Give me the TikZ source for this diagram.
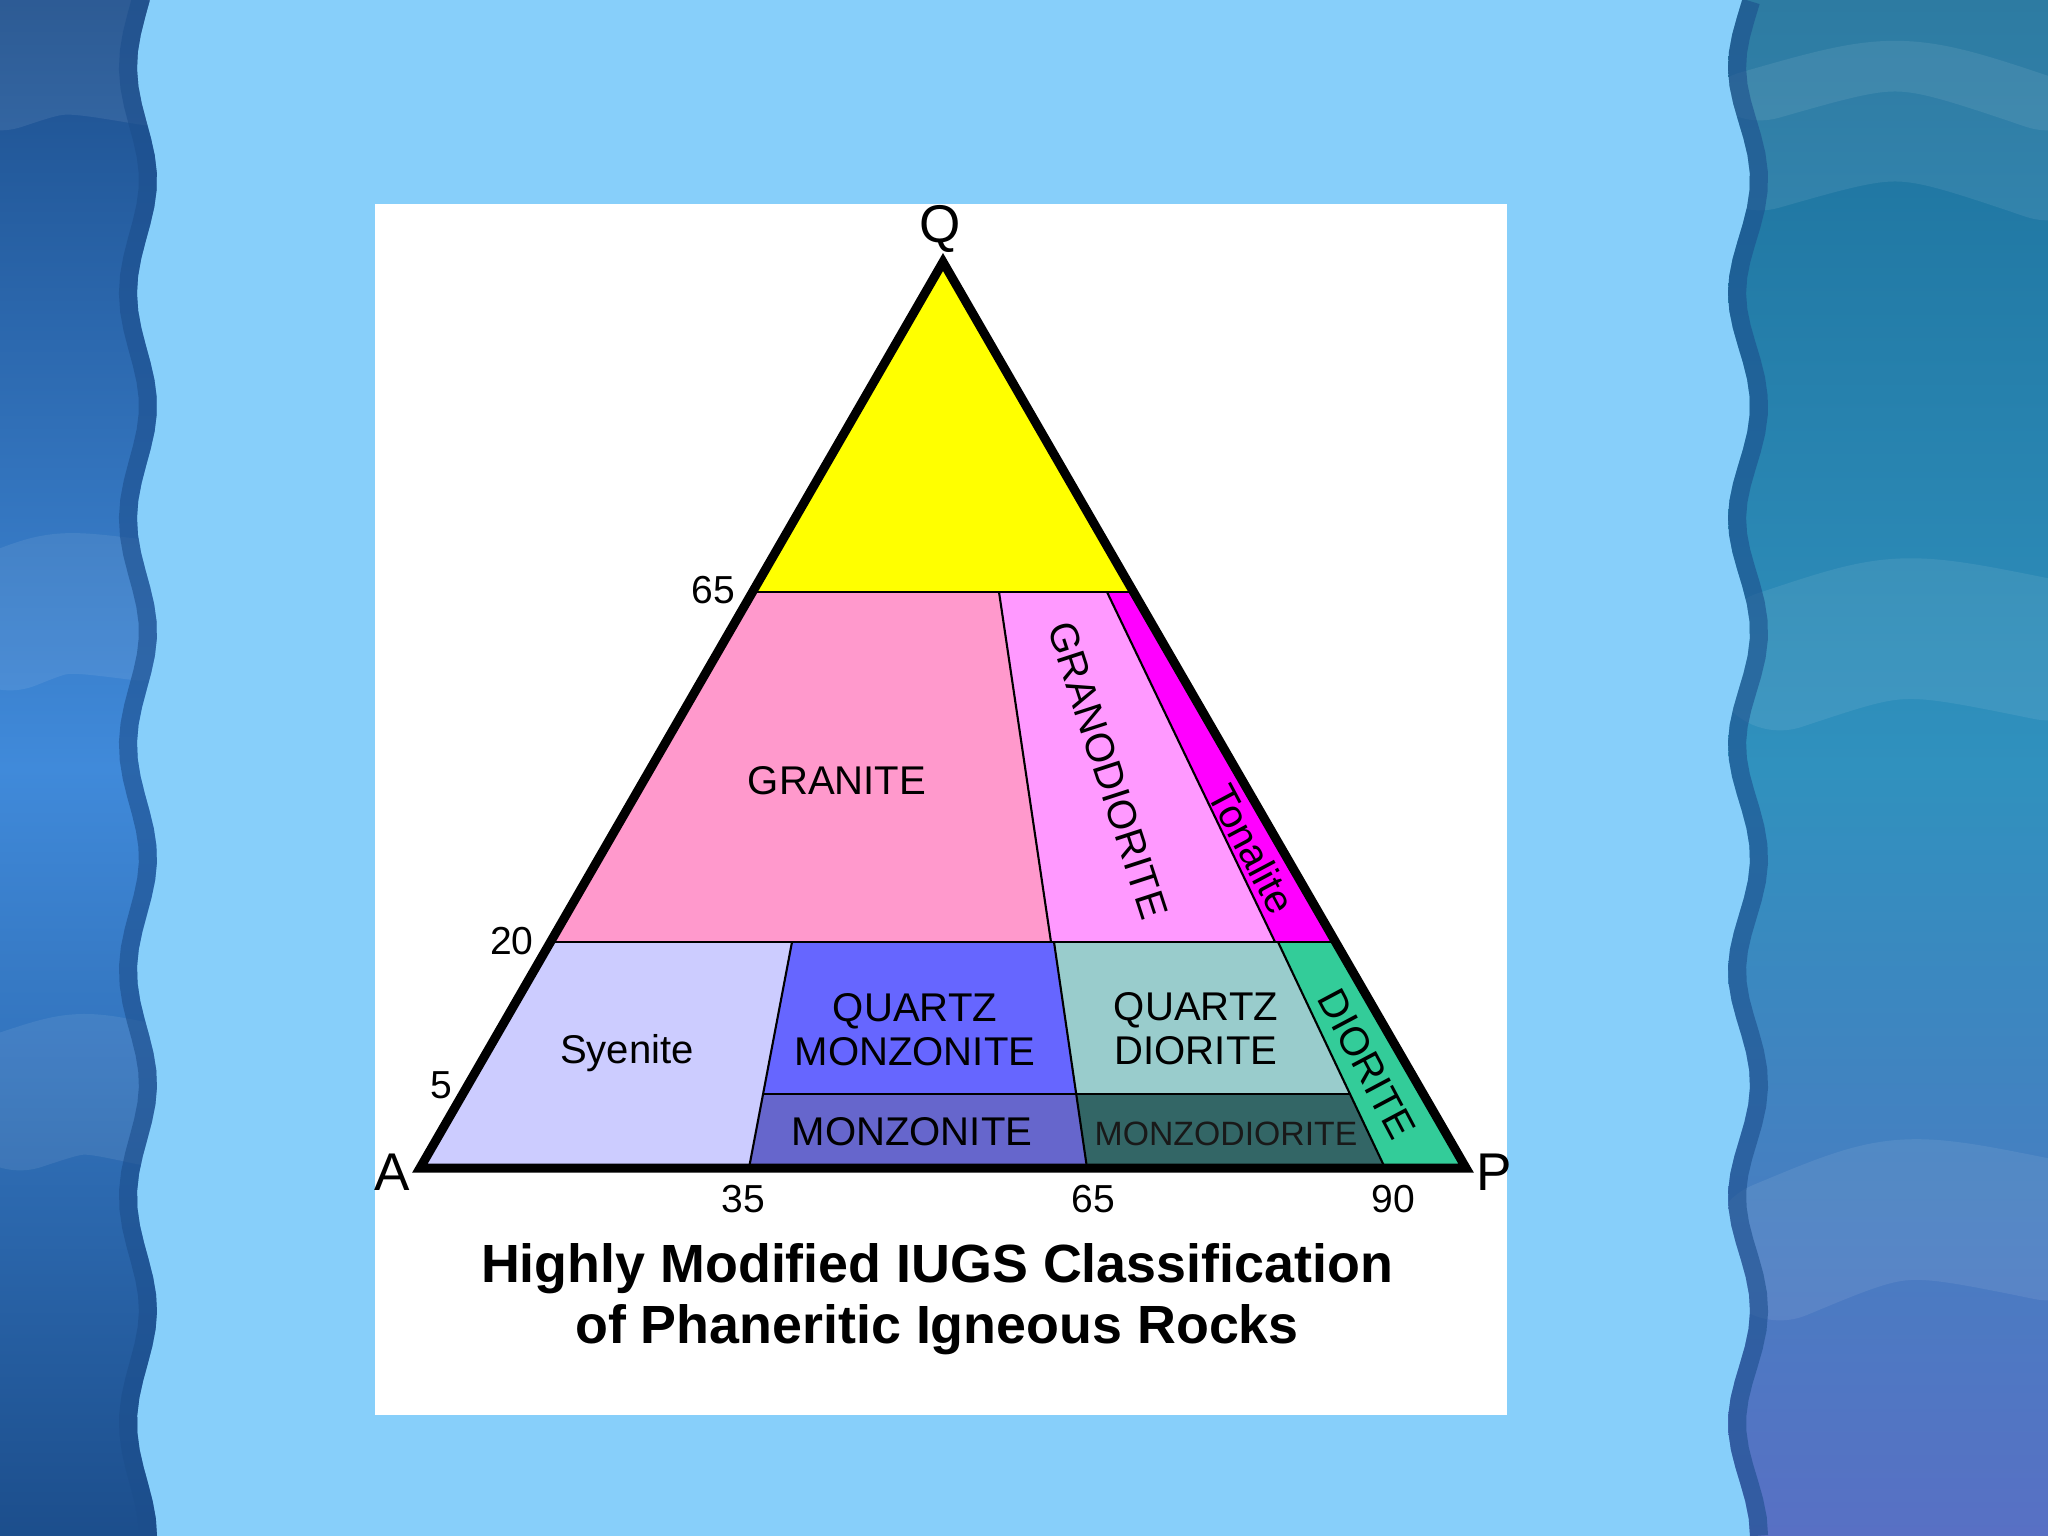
\documentclass[tikz,border=0pt]{standalone}
\usepackage{fontspec}
\setmainfont{Liberation Sans}
\usepackage{tikz}
\usepackage{tkz-euclide}
\usetikzlibrary{calc}

\definecolor{skyback}{RGB}{135,207,250}
\definecolor{navyband}{RGB}{28,78,140}
\definecolor{midband}{RGB}{64,138,218}
\definecolor{tealtop}{RGB}{28,112,155}
\definecolor{tealmid}{RGB}{48,145,190}
\definecolor{violetlow}{RGB}{88,112,196}
\definecolor{qapex}{RGB}{255,255,0}
\definecolor{granite}{RGB}{255,153,204}
\definecolor{granodio}{RGB}{255,153,255}
\definecolor{tonalite}{RGB}{255,0,255}
\definecolor{syenite}{RGB}{204,204,255}
\definecolor{qmonzo}{RGB}{102,102,255}
\definecolor{monzo}{RGB}{102,102,204}
\definecolor{qdiorite}{RGB}{153,204,204}
\definecolor{monzodio}{RGB}{51,102,102}
\definecolor{diorite}{RGB}{51,204,153}

\begin{document}
\begin{tikzpicture}[x=0.01cm,y=-0.01cm,
    rock/.style={font=\fontsize{11.4}{12.6}\selectfont,align=center,inner sep=0pt},
    ticklbl/.style={font=\fontsize{11.1}{12}\selectfont,inner sep=0pt},
    corner/.style={font=\fontsize{15.1}{16}\selectfont,inner sep=0pt},
    border/.style={line width=0.6pt},
    ripple/.style={white,opacity=.08,line width=40,line cap=round}]
    \useasboundingbox (0,0) rectangle (2048,1536);
    % slide background
    \fill[skyback] (0,0) rectangle (2048,1536);
    \shade[top color=navyband,bottom color=navyband,middle color=midband]
        (0,0) -- plot[domain=0:1536,samples=90] ({147-10*cos(1.5929*(\x-67))},\x) -- (0,1536) -- cycle;
    \shade[top color=tealtop,bottom color=violetlow,middle color=tealmid]
        (2048,0) -- plot[domain=0:1536,samples=90] ({1739-11*cos(1.5929*(\x-67))},\x) -- (2048,1536) -- cycle;
    \begin{scope}
        \clip (0,0) -- plot[domain=0:1536,samples=90] ({147-10*cos(1.5929*(\x-67))},\x) -- (0,1536) -- cycle;
        \draw[ripple] (10,620) .. controls (60,600) .. (140,610);
        \draw[ripple] (20,1100) .. controls (80,1080) .. (150,1095);
        \draw[ripple] (0,60) .. controls (60,40) .. (150,55);
        \draw[navyband,line width=8,opacity=.6] plot[domain=0:1536,samples=90] ({143-10*cos(1.5929*(\x-67))},\x);
    \end{scope}
    \begin{scope}
        \clip (2048,0) -- plot[domain=0:1536,samples=90] ({1739-11*cos(1.5929*(\x-67))},\x) -- (2048,1536) -- cycle;
        \draw[ripple] (1760,50) .. controls (1900,10) .. (2048,60);
        \draw[ripple] (1760,140) .. controls (1900,100) .. (2048,150);
        \draw[ripple] (1780,660) .. controls (1900,620) .. (2048,650);
        \draw[ripple] (1780,1250) .. controls (1900,1200) .. (2048,1230);
        \draw[navyband,line width=8,opacity=.6] plot[domain=0:1536,samples=90] ({1743-11*cos(1.5929*(\x-67))},\x);
    \end{scope}
    \fill[white] (375,204) rectangle (1507,1415);
    % QAP corners and field boundaries
    \tkzDefPoints{943/262/Q0, 420/1168/A0, 1466/1168/P0}
    \tkzDefPoints{752.5/592/L65, 1133.5/592/R65, 550.4/942/L20, 1335.6/942/R20}
    \tkzDefPoints{999/592/G1, 1051/942/G2, 1107/592/T1, 1275/942/T2}
    \tkzDefPoints{792/942/S1, 749/1168/S3, 1054/942/M1, 1087/1168/M3, 1278/942/D1, 1385/1168/D3}
    \coordinate (S2) at ($(S1)!0.6726!(S3)$);
    \coordinate (M2) at ($(M1)!0.6726!(M3)$);
    \coordinate (D2) at ($(D1)!0.6726!(D3)$);
    \tkzFillPolygon[qapex](Q0,L65,R65)
    \tkzFillPolygon[granite](L65,G1,G2,L20)
    \tkzFillPolygon[granodio](G1,T1,T2,G2)
    \tkzFillPolygon[tonalite](T1,R65,R20,T2)
    \tkzFillPolygon[syenite](L20,S1,S3,A0)
    \tkzFillPolygon[qmonzo](S1,M1,M2,S2)
    \tkzFillPolygon[monzo](S2,M2,M3,S3)
    \tkzFillPolygon[qdiorite](M1,D1,D2,M2)
    \tkzFillPolygon[monzodio](M2,D2,D3,M3)
    \tkzFillPolygon[diorite](D1,R20,P0,D3)
    \draw[border](L65)--(R65);
    \draw[border](L20)--(R20);
    \draw[border](S2)--(D2);
    \draw[border](G1)--(G2);
    \draw[border](T1)--(T2);
    \draw[border](S1)--(S3);
    \draw[border](M1)--(M3);
    \draw[border](D1)--(D3);
    \draw[line width=0.09cm,line join=miter](A0)--(P0)--(Q0)--cycle;
    % rock names
    \node[rock] (granite) at (837,781) {GRANITE};
    \node[rock,rotate=-72] (granodiorite) at (1108,770) {GRANODIORITE};
    \node[rock,rotate=-62] (tonalite) at (1252,849) {Tonalite};
    \node[rock,rotate=-62] (diorite) at (1367,1064) {DIORITE};
    \node[rock] (syenite) at (627,1053) {Syenite};
    \node[rock] (qmonzonite) at (915,1030) {QUARTZ\\MONZONITE};
    \node[rock] (qdiorite) at (1196,1029) {QUARTZ\\DIORITE};
    \node[rock] (monzonite) at (912,1132) {MONZONITE};
    \node[rock,font=\fontsize{9.6}{11}\selectfont,text=black!90] (monzodiorite) at (1226,1134) {MONZODIORITE};
    % apices and percent marks
    \node[corner] (q) at (940,229) {Q};
    \node[corner] (a) at (392,1172) {A};
    \node[corner] (p) at (1494,1172) {P};
    \node[ticklbl] (q65) at (713,590) {65};
    \node[ticklbl] (q20) at (512,941) {20};
    \node[ticklbl] (q5) at (441,1085) {5};
    \node[ticklbl] (p35) at (743,1199) {35};
    \node[ticklbl] (p65) at (1093,1199) {65};
    \node[ticklbl] (p90) at (1393,1199) {90};
    \node[font=\bfseries\fontsize{15.3}{17.4}\selectfont,align=center] (title) at (937,1299)
        {Highly Modified IUGS Classification\\of Phaneritic Igneous Rocks};
\end{tikzpicture}
\end{document}
